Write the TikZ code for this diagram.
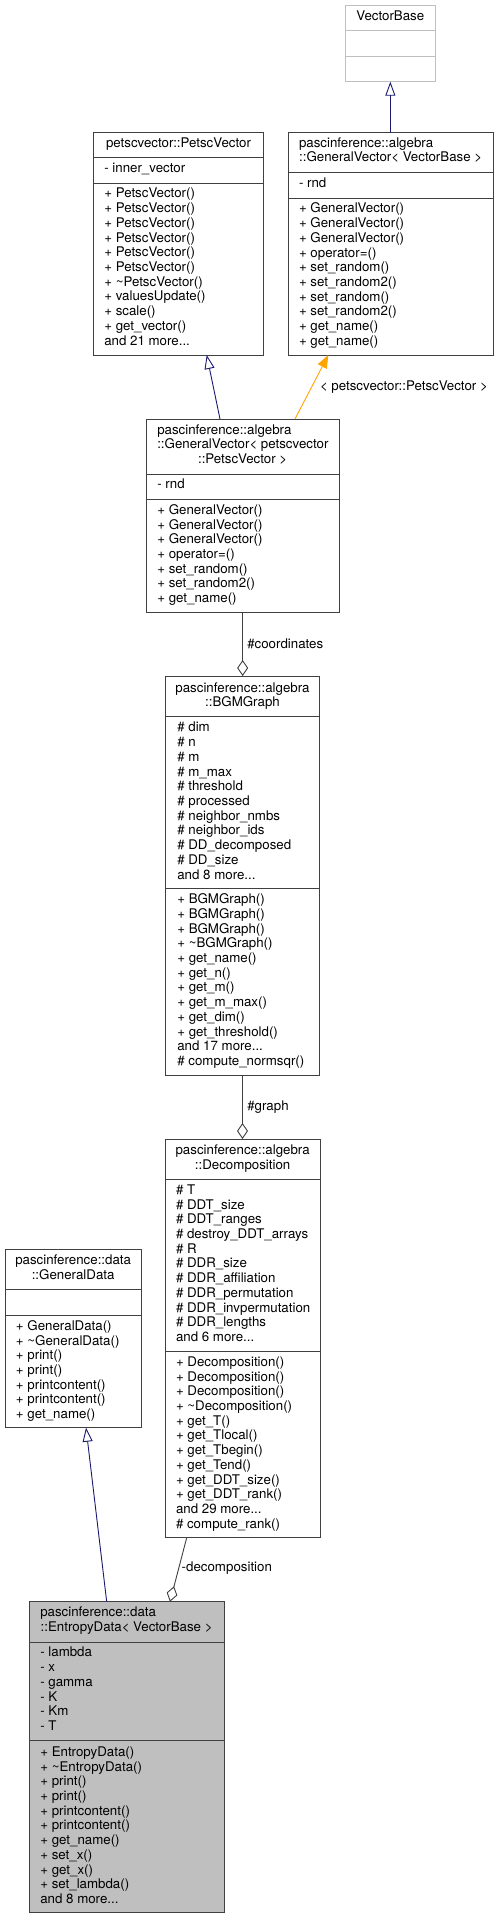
\documentclass[tikz,border=0pt]{standalone}
\usepackage{fontspec}
\setmainfont{TeX Gyre Heros}
\usetikzlibrary{arrows.meta,calc}
\definecolor{boxcol}{HTML}{404040}
\definecolor{extcol}{HTML}{BFBFBF}
\definecolor{inhcol}{HTML}{191970}
\definecolor{tplcol}{HTML}{FFA500}
\definecolor{aggcol}{HTML}{404040}
\definecolor{hilite}{HTML}{BFBFBF}
\newcommand\threedots{...}
\newcommand\memblines[4]{%
  \foreach \t [count=\i from 0] in {#4}
    \node[txt, anchor=base west] (#1\i) at (#2, #3+3.6+\i*14.72) {\t};}
\begin{document}
\begin{tikzpicture}[x=1pt,y=-1pt,
  every node/.style={font=\fontsize{13.3}{14.7}\selectfont, inner sep=0pt, outer sep=0pt},
  txt/.style={text=black},
  box/.style={draw=boxcol, line width=1pt, fill=white, anchor=north west, rectangle},
  extbox/.style={box, draw=extcol},
  div/.style={draw=boxcol, line width=1pt},
  extdiv/.style={draw=extcol, line width=1pt},
  inh/.style={draw=inhcol, line width=0.9pt, {Triangle[open,length=14pt,width=10pt]}-},
  tpl/.style={draw=tplcol, line width=0.9pt, {Triangle[length=13pt,width=10pt]}-},
  agg/.style={draw=aggcol, line width=0.9pt, -{Diamond[open,length=16pt,width=11pt]}},
  elabel/.style={txt, anchor=west}]
\fill[white] (0,0) rectangle (499,1919);
\useasboundingbox (0,0) rectangle (499,1919);

% ---------- VectorBase
\node[extbox, minimum width=90.7pt, minimum height=76pt] (vb) at (345,5.7) {};
\draw[extdiv] (345,31) -- (435.7,31);
\draw[extdiv] (345,56.7) -- (435.7,56.7);
\node[txt, anchor=base] (vbt) at (390.3,20.9) {VectorBase};

% ---------- petscvector::PetscVector
\node[box, minimum width=170.4pt, minimum height=222.3pt] (pv) at (93.3,132.7) {};
\draw[div] (93.3,157.7) -- (263.7,157.7);
\draw[div] (93.3,183) -- (263.7,183);
\node[txt, anchor=base] (pvt) at (178.5,147.9) {petscvector::PetscVector};
\memblines{pva}{104.3}{169.3}{- inner\_vector}
\memblines{pvm}{104.3}{194.3}{+ PetscVector(),+ PetscVector(),+ PetscVector(),+ PetscVector(),+ PetscVector(),+ PetscVector(),+ \textasciitilde PetscVector(),+ valuesUpdate(),+ scale(),+ get\_vector(),and 21 more\threedots}

% ---------- GeneralVector< VectorBase >
\node[box, minimum width=205.3pt, minimum height=222.3pt] (gvb) at (288,132.7) {};
\draw[div] (288,172.7) -- (493.3,172.7);
\draw[div] (288,198) -- (493.3,198);
\node[txt, anchor=base west] (gvbt1) at (299,147.9) {pascinference::algebra};
\node[txt, anchor=base] (gvbt2) at (390.65,161.9) {::GeneralVector< VectorBase >};
\memblines{gvba}{299}{184.3}{- rnd}
\memblines{gvbm}{299}{209.3}{+ GeneralVector(),+ GeneralVector(),+ GeneralVector(),+ operator=(),+ set\_random(),+ set\_random2(),+ set\_random(),+ set\_random2(),+ get\_name(),+ get\_name()}

% ---------- GeneralVector< petscvector::PetscVector >
\node[box, minimum width=193.3pt, minimum height=193.7pt] (gvp) at (146,419) {};
\draw[div] (146,474) -- (339.3,474);
\draw[div] (146,499) -- (339.3,499);
\node[txt, anchor=base west] (gvpt1) at (157.3,434.3) {pascinference::algebra};
\node[txt, anchor=base west] (gvpt2) at (157.3,448.9) {::GeneralVector< petscvector};
\node[txt, anchor=base] (gvpt3) at (242.65,463.6) {::PetscVector >};
\memblines{gvpa}{157.3}{485.3}{- rnd}
\memblines{gvpm}{157.3}{510.7}{+ GeneralVector(),+ GeneralVector(),+ GeneralVector(),+ operator=(),+ set\_random(),+ set\_random2(),+ get\_name()}

% ---------- BGMGraph
\node[box, minimum width=153.6pt, minimum height=399pt] (bgm) at (165.7,676) {};
\draw[div] (165.7,716.7) -- (319.3,716.7);
\draw[div] (165.7,888.7) -- (319.3,888.7);
\node[txt, anchor=base] (bgmt1) at (242.5,692.6) {pascinference::algebra};
\node[txt, anchor=base] (bgmt2) at (242.5,706.3) {::BGMGraph};
\memblines{bgma}{177.3}{728.3}{\# dim,\# n,\# m,\# m\_max,\# threshold,\# processed,\# neighbor\_nmbs,\# neighbor\_ids,\# DD\_decomposed,\# DD\_size,and 8 more\threedots}
\memblines{bgmm}{177.3}{900}{+ BGMGraph(),+ BGMGraph(),+ BGMGraph(),+ \textasciitilde BGMGraph(),+ get\_name(),+ get\_n(),+ get\_m(),+ get\_m\_max(),+ get\_dim(),+ get\_threshold(),and 17 more\threedots,\# compute\_normsqr()}

% ---------- Decomposition
\node[box, minimum width=154.7pt, minimum height=398.7pt] (dec) at (165.3,1139) {};
\draw[div] (165.3,1179.3) -- (320,1179.3);
\draw[div] (165.3,1351) -- (320,1351);
\node[txt, anchor=base] (dect1) at (242.65,1154.3) {pascinference::algebra};
\node[txt, anchor=base] (dect2) at (242.65,1169.3) {::Decomposition};
\memblines{deca}{176}{1190.7}{\# T,\# DDT\_size,\# DDT\_ranges,\# destroy\_DDT\_arrays,\# R,\# DDR\_size,\# DDR\_affiliation,\# DDR\_permutation,\# DDR\_invpermutation,\# DDR\_lengths,and 6 more\threedots}
\memblines{decm}{176}{1362.7}{+ Decomposition(),+ Decomposition(),+ Decomposition(),+ \textasciitilde Decomposition(),+ get\_T(),+ get\_Tlocal(),+ get\_Tbegin(),+ get\_Tend(),+ get\_DDT\_size(),+ get\_DDT\_rank(),and 29 more\threedots,\# compute\_rank()}

% ---------- GeneralData
\node[box, minimum width=136.3pt, minimum height=178.4pt] (gd) at (5,1249.3) {};
\draw[div] (5,1289) -- (141.3,1289);
\draw[div] (5,1315) -- (141.3,1315);
\node[txt, anchor=base] (gdt1) at (73.15,1264.3) {pascinference::data};
\node[txt, anchor=base] (gdt2) at (73.15,1279.3) {::GeneralData};
\memblines{gdm}{16}{1326.7}{+ GeneralData(),+ \textasciitilde GeneralData(),+ print(),+ print(),+ printcontent(),+ printcontent(),+ get\_name()}

% ---------- EntropyData< VectorBase >
\node[box, fill=hilite, minimum width=194.7pt, minimum height=311pt] (ed) at (29.3,1601.7) {};
\draw[div] (29.3,1642) -- (224,1642);
\draw[div] (29.3,1740.7) -- (224,1740.7);
\node[txt, anchor=base west] (edt1) at (40.3,1616.9) {pascinference::data};
\node[txt, anchor=base] (edt2) at (126.65,1631.9) {::EntropyData< VectorBase >};
\memblines{eda}{40.3}{1653.3}{- lambda,- x,- gamma,- K,- Km,- T}
\memblines{edm}{40.3}{1752.7}{+ EntropyData(),+ \textasciitilde EntropyData(),+ print(),+ print(),+ printcontent(),+ printcontent(),+ get\_name(),+ set\_x(),+ get\_x(),+ set\_lambda(),and 8 more\threedots}

% ---------- connectors
\draw[inh] (vb.south) -- (vb.south |- gvb.north);
\draw[inh] ([xshift=28.2pt]pv.south) -- ([xshift=-22.65pt]gvp.north);
\draw[tpl] ([xshift=-62.35pt]gvb.south) -- ([xshift=52.35pt]gvp.north);
\node[elabel] (tpllab) at (320,386.7) {< petscvector::PetscVector >};
\draw[agg] (gvp.south) -- (gvp.south |- bgm.north);
\node[elabel] (coordlab) at (247.3,643.3) {\#coordinates};
\draw[agg] (bgm.south) -- (bgm.south |- dec.north);
\node[elabel] (graphlab) at (247.3,1106.7) {\#graph};
\draw[inh] ([xshift=12.85pt]gd.south) -- ([xshift=-19.95pt]ed.north);
\draw[agg] ([xshift=-55.95pt]dec.south) -- ([xshift=43.35pt]ed.north);
\node[elabel] (declab) at (181.7,1568.3) {-decomposition};
\end{tikzpicture}
\end{document}
